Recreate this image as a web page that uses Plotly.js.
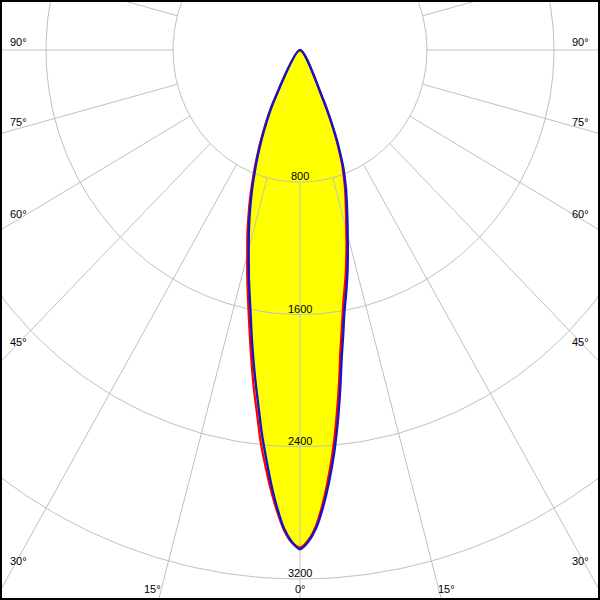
<!DOCTYPE html>
<html><head><meta charset="utf-8">
<script src="https://cdn.plot.ly/plotly-3.0.1.min.js"></script>
<style>html,body{margin:0;padding:0;background:#fff}#chart{width:600px;height:600px}</style>
</head><body><div id="chart"></div>
<script>
// gamma angles (deg from nadir)
const gammaDeg = [0,1,2,3,4,5,6,7,8,9,10,11,12,13,14,15,16,17,18,19,20,21,22,23,24,25,26,27,28,29];
// intensities (cd) - blue curve
const blueRight = [3020,2975,2895,2770,2620,2455,2270,2075,1885,1740,1610,1515,1425,1335,1245,1160,1085,1015,950,890,825,760,680,600,510,420,330,0,0,0];
const blueLeft  = [3020,2975,2895,2770,2625,2470,2320,2160,2020,1885,1755,1630,1525,1430,1335,1250,1170,1095,1020,945,875,800,735,665,600,535,475,415,350,0];
// red curve
const redRight  = [3010,2965,2880,2745,2585,2410,2215,2020,1830,1690,1565,1470,1385,1295,1210,1125,1055,985,925,865,800,740,660,585,495,410,320,0,0,0];
const redLeft   = [3020,2980,2905,2790,2660,2520,2380,2220,2080,1940,1805,1680,1570,1470,1375,1285,1205,1130,1050,975,900,825,755,685,620,550,490,430,360,0];
// grid
const ringValues = [800,1600,2400,3200,4000];
const ringLabels = ['800','1600','2400','3200'];
const spokeAngles = [-165,-150,-135,-120,-105,-90,-75,-60,-45,-30,-15,0,15,30,45,60,75,90,105,120,135,150,165,180];
const angleLabels = ['90°','75°','60°','45°','30°','15°','0°'];

const rad = d => d*Math.PI/180;
function shape(left, right){
  const xs=[0], ys=[0];
  for(let i=gammaDeg.length-1;i>=1;i--){ if(left[i]===0) continue; const a=rad(gammaDeg[i]); xs.push(-left[i]*Math.sin(a)); ys.push(-left[i]*Math.cos(a)); }
  for(let i=0;i<gammaDeg.length;i++){ if(right[i]===0) continue; const a=rad(gammaDeg[i]); xs.push(right[i]*Math.sin(a)); ys.push(-right[i]*Math.cos(a)); }
  xs.push(0); ys.push(0);
  return {xs, ys};
}
const blue = shape(blueLeft, blueRight);
const red = shape(redLeft, redRight);

// grid traces
const gx=[], gy=[];
ringValues.forEach(r=>{
  for(let a=0;a<=360;a+=1){ gx.push(r*Math.sin(rad(a))); gy.push(-r*Math.cos(rad(a))); }
  gx.push(null); gy.push(null);
});
spokeAngles.forEach(a=>{
  gx.push(800*Math.sin(rad(a))); gy.push(-800*Math.cos(rad(a)));
  gx.push(8000*Math.sin(rad(a))); gy.push(-8000*Math.cos(rad(a)));
  gx.push(null); gy.push(null);
});

const sm = {shape:'spline', smoothing:0.7};
const traces = [
  {x: red.xs, y: red.ys, mode:'lines', fill:'toself', fillcolor:'#ffff00', line:Object.assign({width:0}, sm), hoverinfo:'skip'},
  {x: blue.xs, y: blue.ys, mode:'lines', fill:'toself', fillcolor:'#ffff00', line:Object.assign({width:0}, sm), hoverinfo:'skip'},
  {x: gx, y: gy, mode:'lines', line:{color:'#c0c0c0', width:1}, hoverinfo:'skip'},
  {x: red.xs, y: red.ys, mode:'lines', line:Object.assign({color:'#ff0000', width:2.2}, sm), hoverinfo:'skip'},
  {x: blue.xs, y: blue.ys, mode:'lines', line:Object.assign({color:'#1414c8', width:2.4}, sm), hoverinfo:'skip'}
];

const font = {family:'"Liberation Sans", Arial, sans-serif', size:11, color:'#000'};
const annotations = [];
ringLabels.forEach((t,i)=>{
  annotations.push({x:0, y:-ringValues[i], xref:'x', yref:'y', text:t, showarrow:false, xanchor:'center', yanchor:'middle', yshift:6, font});
});
// angle labels (pixel positions measured)
const leftY = [42,121.5,214.5,341.7,561];
leftY.forEach((py,i)=>{
  annotations.push({x:18/600, y:1-py/600, xref:'paper', yref:'paper', text:angleLabels[i], showarrow:false, xanchor:'center', yanchor:'middle', font});
  annotations.push({x:580.5/600, y:1-py/600, xref:'paper', yref:'paper', text:angleLabels[i], showarrow:false, xanchor:'center', yanchor:'middle', font});
});
[[152,angleLabels[5]],[446.5,angleLabels[5]],[300,angleLabels[6]]].forEach(([px,t])=>{
  annotations.push({x:px/600, y:1-588.5/600, xref:'paper', yref:'paper', text:t, showarrow:false, xanchor:'center', yanchor:'middle', font});
});

const layout = {
  width:600, height:600, margin:{l:0,r:0,t:0,b:0},
  paper_bgcolor:'#fff', plot_bgcolor:'#fff', showlegend:false,
  xaxis:{range:[-1890,1890], visible:false, fixedrange:true},
  yaxis:{range:[-3327,302.5], visible:false, fixedrange:true},
  annotations,
  shapes:[{type:'rect', xref:'paper', yref:'paper', x0:0, x1:1, y0:0, y1:1, line:{color:'#000', width:4}, layer:'above'}]
};
Plotly.newPlot('chart', traces, layout, {staticPlot:true, displayModeBar:false});
</script></body></html>
